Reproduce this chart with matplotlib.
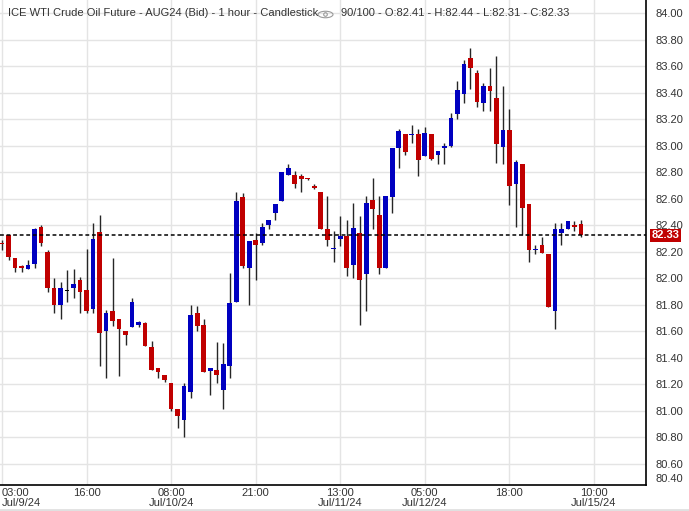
import matplotlib.pyplot as plt
import numpy as np
from matplotlib.patches import Ellipse, Circle
from matplotlib.lines import Line2D

# hourly candles (90 of 100 slots used)
opens = [82.27, 82.33, 82.15, 82.09, 82.07, 82.11, 82.39, 82.20, 81.93, 81.80,
         81.91, 81.93, 81.99, 81.91, 81.77, 82.35, 81.60, 81.75, 81.69, 81.60,
         81.63, 81.65, 81.66, 81.48, 81.32, 81.27, 81.21, 81.01, 80.93, 81.14,
         81.74, 81.65, 81.30, 81.31, 81.16, 81.34, 81.82, 82.61, 82.08, 82.29,
         82.27, 82.40, 82.49, 82.58, 82.78, 82.78, 82.77, 82.76, 82.70, 82.65,
         82.37, 82.22, 82.30, 82.32, 82.10, 82.34, 82.03, 82.59, 82.48, 82.08,
         82.61, 82.98, 83.09, 83.08, 83.09, 82.92, 83.09, 82.93, 82.98, 83.00,
         83.24, 83.39, 83.66, 83.55, 83.32, 83.45, 83.36, 82.99, 83.12, 82.71,
         82.86, 82.56, 82.21, 82.25, 82.18, 81.75, 82.34, 82.37, 82.40, 82.41]
highs = [82.29, 82.33, 82.15, 82.10, 82.14, 82.38, 82.40, 82.21, 82.00, 81.97,
         82.06, 82.07, 82.01, 82.22, 82.42, 82.48, 81.76, 82.15, 81.69, 81.60,
         81.85, 81.68, 81.67, 81.53, 81.32, 81.27, 81.21, 81.01, 81.21, 81.80,
         81.79, 81.69, 81.32, 81.52, 81.51, 82.04, 82.65, 82.64, 82.28, 82.34,
         82.42, 82.44, 82.56, 82.80, 82.86, 82.81, 82.79, 82.76, 82.71, 82.65,
         82.62, 82.36, 82.47, 82.44, 82.57, 82.47, 82.62, 82.76, 82.62, 82.62,
         82.98, 83.13, 83.09, 83.16, 83.13, 83.14, 83.09, 82.96, 83.02, 83.25,
         83.49, 83.65, 83.74, 83.57, 83.47, 83.59, 83.68, 83.45, 83.28, 82.89,
         82.86, 82.56, 82.25, 82.31, 82.18, 82.42, 82.42, 82.43, 82.43, 82.44]
lows = [82.21, 82.14, 82.05, 82.05, 82.07, 82.08, 82.24, 81.90, 81.74, 81.69,
        81.82, 81.85, 81.74, 81.74, 81.74, 81.34, 81.25, 81.64, 81.26, 81.50,
        81.63, 81.63, 81.49, 81.31, 81.25, 81.22, 81.00, 80.87, 80.80, 81.10,
        81.60, 81.29, 81.12, 81.21, 81.01, 81.25, 81.82, 82.08, 81.80, 81.99,
        82.25, 82.37, 82.44, 82.58, 82.78, 82.68, 82.65, 82.74, 82.67, 82.37,
        82.24, 82.12, 82.24, 82.02, 82.00, 81.65, 81.75, 82.37, 82.03, 82.08,
        82.49, 82.83, 82.93, 83.02, 82.77, 82.92, 82.89, 82.86, 82.86, 82.99,
        83.20, 83.32, 83.43, 83.29, 83.26, 83.26, 82.87, 82.86, 82.55, 82.39,
        82.33, 82.12, 82.18, 82.19, 81.78, 81.62, 82.25, 82.37, 82.36, 82.31]
closes = [82.26, 82.16, 82.08, 82.08, 82.10, 82.37, 82.27, 81.93, 81.80, 81.93,
          81.91, 81.96, 81.90, 81.75, 82.30, 81.59, 81.74, 81.68, 81.62, 81.57,
          81.82, 81.67, 81.49, 81.31, 81.29, 81.23, 81.01, 80.96, 81.19, 81.72,
          81.64, 81.29, 81.32, 81.27, 81.35, 81.81, 82.58, 82.09, 82.28, 82.25,
          82.39, 82.44, 82.56, 82.80, 82.83, 82.71, 82.75, 82.75, 82.68, 82.37,
          82.29, 82.23, 82.32, 82.08, 82.38, 81.99, 82.57, 82.52, 82.08, 82.62,
          82.98, 83.11, 82.95, 83.09, 82.89, 83.10, 82.90, 82.96, 83.00, 83.21,
          83.42, 83.62, 83.59, 83.33, 83.45, 83.41, 83.01, 83.12, 82.70, 82.88,
          82.53, 82.21, 82.22, 82.19, 81.78, 82.37, 82.37, 82.43, 82.39, 82.33]

tickIdx = [0, 13, 26, 39, 52, 65, 78, 91]
tickLabels = ['03:00\nJul/9/24', '16:00', '08:00\nJul/10/24', '21:00',
              '13:00\nJul/11/24', '05:00\nJul/12/24', '18:00', '10:00\nJul/15/24']
priceTicks = [80.60, 80.80, 81.00, 81.20, 81.40, 81.60, 81.80, 82.00, 82.20,
              82.40, 82.60, 82.80, 83.00, 83.20, 83.40, 83.60, 83.80, 84.00]
lastPrice = 82.33

RED = '#c00000'
BLUE = '#0000c0'
TXT = '#333333'

plt.rcParams['font.family'] = ['Liberation Sans', 'DejaVu Sans']


def candleColors(o, c):
    cols = []
    for a, b in zip(o, c):
        if b > a:
            cols.append(BLUE)
        elif b < a:
            cols.append(RED)
        else:
            cols.append('black')
    return cols


def main():
    o = np.array(opens)
    h = np.array(highs)
    l = np.array(lows)
    c = np.array(closes)
    x = np.arange(len(o))

    fig = plt.figure(figsize=(6.89, 5.11), dpi=100)
    ax = fig.add_axes([0, 26 / 511, 646 / 689, 485 / 511])

    # wicks then bodies
    ax.vlines(x, l, h, color='#262626', lw=1.0, zorder=2)
    body = np.maximum(np.abs(c - o), 0.006)
    ax.bar(x, body, bottom=np.minimum(o, c) - (body - np.abs(c - o)) / 2,
           width=0.72, color=candleColors(o, c), zorder=3)

    ax.axhline(lastPrice, color='black', lw=1.1, ls=(0, (2.5, 1.8)), zorder=4)

    ax.set_xlim(-0.31, 99.0)
    ax.set_ylim(80.44, 84.10)

    ax.grid(True, color='#e4e4e4', lw=1.0, zorder=0)
    ax.set_axisbelow(True)

    ax.yaxis.tick_right()
    ax.set_yticks(priceTicks, ['%.2f' % p for p in priceTicks])
    ax.set_xticks(tickIdx, tickLabels)
    ax.tick_params(axis='y', length=0, pad=6.5, labelsize=8, labelcolor=TXT)
    ax.tick_params(axis='x', length=0, pad=2, labelsize=8, labelcolor=TXT)
    for lab in ax.get_xticklabels():
        lab.set_linespacing(1.0)
    ax.get_xticklabels()[0].set_ha('left')

    # bottom label sits clamped just above the frame edge
    ax.text(655 / 646, 6 / 485, '80.40', transform=ax.transAxes,
            ha='left', va='center', fontsize=8, color=TXT)

    # last price tag, drawn over the neighbouring tick label like the original
    ax.text(1.0 + 6 / 646, lastPrice - 0.005, '%.2f' % lastPrice,
            transform=ax.get_yaxis_transform(), ha='left', va='center',
            fontsize=8, color='white', fontweight='bold', zorder=10,
            bbox=dict(boxstyle='square,pad=0.14', fc=RED, ec='none'))

    for side in ['left', 'top']:
        ax.spines[side].set_visible(False)
    for side in ['right', 'bottom']:
        ax.spines[side].set_color('black')
        ax.spines[side].set_linewidth(1.2)

    fig.text(8 / 689, 1 - 13 / 511,
             'ICE WTI Crude Oil Future - AUG24 (Bid) - 1 hour - Candlestick',
             fontsize=8, color=TXT, va='center')
    fig.text(341 / 689, 1 - 13 / 511,
             '90/100 - O:%.2f - H:%.2f - L:%.2f - C:%.2f' % (o[-1], h[-1], l[-1], c[-1]),
             fontsize=8, color=TXT, va='center')

    # little eye icon
    fig.add_artist(Ellipse((3.255, 5.11 - 0.145), 0.15, 0.065, fill=False,
                           ec='#9a9a9a', lw=0.8, transform=fig.dpi_scale_trans))
    fig.add_artist(Circle((3.255, 5.11 - 0.145), 0.018, fill=False,
                          ec='#9a9a9a', lw=0.8, transform=fig.dpi_scale_trans))

    fig.add_artist(Line2D([0, 1], [1.5 / 511, 1.5 / 511], color='#e0e0e0', lw=2,
                          transform=fig.transFigure))

    fig.savefig('out.png', dpi=100)


if __name__ == '__main__':
    main()
